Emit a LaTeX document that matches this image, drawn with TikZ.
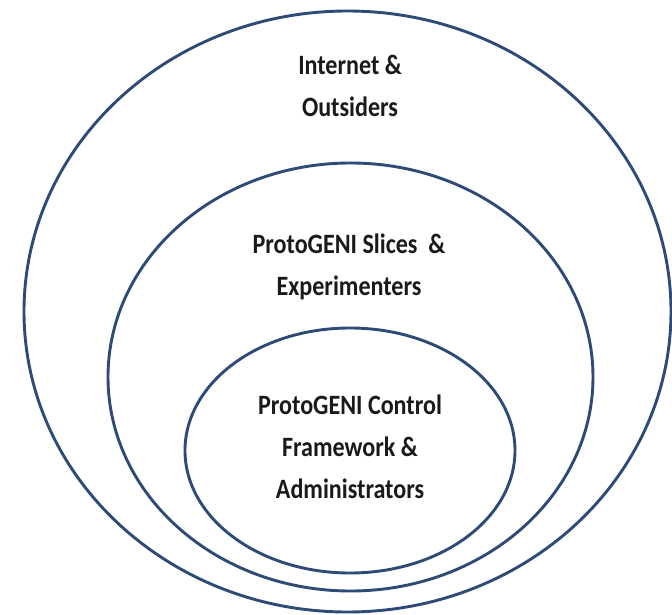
\documentclass[tikz,border=0pt]{standalone}
\usepackage{fontspec}
\setmainfont{Carlito}[FakeStretch=0.86]
\usetikzlibrary{shapes.geometric}
\definecolor{ringblue}{HTML}{2E4A76}
\definecolor{labelink}{HTML}{1A1A1A}
\begin{document}
\begin{tikzpicture}[x=1pt,y=-1pt,
  ring/.style={draw=ringblue, line width=2.9pt, ellipse, inner sep=0pt, outer sep=0pt},
  layer/.style={text=labelink, font=\fontsize{28}{42}\selectfont\bfseries, align=center, inner sep=0pt}]
\useasboundingbox[fill=white] (0,0) rectangle (672,615);
% nested trust rings
\node[ring, minimum width=647pt, minimum height=601pt] (outer) at (347.5,311.5) {};
\node[ring, minimum width=485pt, minimum height=428pt] (middle) at (350.5,377) {};
\node[ring, minimum width=330pt, minimum height=245pt] (inner) at (350,450.5) {};
% ring labels
\node[layer] (outerlbl) at (350,86) {Internet \&\\Outsiders};
\node[layer] (middlelbl) at (349,267) {ProtoGENI Slices\ \ \&\\Experimenters};
\node[layer] (innerlbl) at (350,447) {ProtoGENI Control\\Framework \&\\Administrators};
\end{tikzpicture}
\end{document}
